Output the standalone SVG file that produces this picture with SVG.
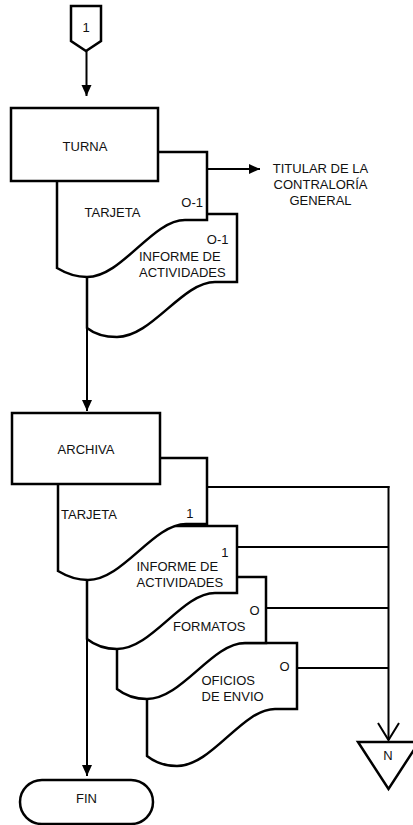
<svg xmlns="http://www.w3.org/2000/svg" width="413" height="825" viewBox="0 0 413 825">
  <defs>
    <style>
      .shape { fill: #fff; stroke: #000; stroke-width: 2.5; stroke-linejoin: miter; }
      .line { fill: none; stroke: #000; stroke-width: 2; }
      text { font-family: "Liberation Sans", Arial, sans-serif; font-size: 13px; fill: #111; }
      .c { text-anchor: middle; }
      .r { text-anchor: end; }
    </style>
    <marker id="arrow" markerUnits="userSpaceOnUse" markerWidth="12" markerHeight="12" refX="11" refY="5" orient="auto">
      <path d="M0,0 L11,5 L0,10 Z" fill="#000"/>
    </marker>
  </defs>

  <rect width="413" height="825" fill="#fff"/>

  <!-- off-page connector 1 -->
  <g id="conector-1">
    <polygon class="shape" points="71,6 101,6 101,41 86,51 71,41"/>
    <text class="c" x="86" y="32">1</text>
  </g>

  <!-- first block: documents stacked back to front, then the process -->
  <g id="doc-informe-1">
    <path class="shape" d="M87,214 H237 V282 H215 C182,282 152,337 117,337 C102,337 92,332 87,328 Z"/>
    <text class="r" x="228.5" y="243.5">O-1</text>
    <text x="139" y="261">INFORME DE</text>
    <text x="139" y="277">ACTIVIDADES</text>
  </g>
  <g id="doc-tarjeta-1">
    <path class="shape" d="M57,152 H207 V220 H185 C152,220 122,277 87,277 C72,277 62,271 57,268 Z"/>
    <text class="c" x="112.5" y="217">TARJETA</text>
    <text class="r" x="203" y="207">O-1</text>
  </g>
  <g id="turna">
    <rect class="shape" x="11" y="108" width="147" height="73"/>
    <text class="c" x="85" y="150.5">TURNA</text>
  </g>
  <g id="titular">
    <text class="c" x="320.5" y="173">TITULAR DE LA</text>
    <text class="c" x="320.5" y="189">CONTRALORÍA</text>
    <text class="c" x="320.5" y="205">GENERAL</text>
  </g>

  <!-- second block -->
  <g id="doc-oficios">
    <path class="shape" d="M147,643 H297 V709 H275 C242,709 212,766 177,766 C162,766 152,760 147,756 Z"/>
    <text class="r" x="289.5" y="671">O</text>
    <text x="201.5" y="685">OFICIOS</text>
    <text x="201.5" y="700.5">DE ENVIO</text>
  </g>
  <g id="doc-formatos">
    <path class="shape" d="M117,577 H266 V643 H245 C212,643 182,699 147,699 C132,699 122,693 117,689 Z"/>
    <text class="r" x="259.5" y="615">O</text>
    <text x="173" y="630.5">FORMATOS</text>
  </g>
  <g id="doc-informe-2">
    <path class="shape" d="M87,526 H237 V593 H215 C182,593 152,649 117,649 C102,649 92,643 87,639 Z"/>
    <text class="r" x="228.5" y="557">1</text>
    <text x="136.5" y="570.5">INFORME DE</text>
    <text x="136.5" y="586.5">ACTIVIDADES</text>
  </g>
  <g id="doc-tarjeta-2">
    <path class="shape" d="M58,458 H207 V524 H186 C153,524 123,580 88,580 C73,580 63,574 58,571 Z"/>
    <text x="61" y="519">TARJETA</text>
    <text class="r" x="193.5" y="517.5">1</text>
  </g>
  <g id="archiva">
    <rect class="shape" x="12" y="413" width="148" height="71"/>
    <text class="c" x="86" y="454">ARCHIVA</text>
  </g>

  <g id="conector-n">
    <polygon class="shape" points="358,742 419,742 388.5,789"/>
    <text class="c" x="388" y="759.5">N</text>
  </g>

  <g id="fin">
    <rect class="shape" x="20" y="780" width="133" height="44" rx="22" ry="22"/>
    <text class="c" x="86.5" y="802.5">FIN</text>
  </g>

  <!-- connectors -->
  <g id="connectors">
    <line class="line" x1="86.5" y1="51" x2="86.5" y2="96" marker-end="url(#arrow)"/>
    <line class="line" x1="207" y1="169" x2="260" y2="169" marker-end="url(#arrow)"/>
    <line class="line" x1="87" y1="277" x2="87" y2="411" marker-end="url(#arrow)"/>
    <line class="line" x1="87" y1="580" x2="87" y2="776" marker-end="url(#arrow)"/>
    <line class="line" x1="207" y1="487" x2="389.5" y2="487"/>
    <line class="line" x1="237" y1="547" x2="388.5" y2="547"/>
    <line class="line" x1="266" y1="608" x2="388.5" y2="608"/>
    <line class="line" x1="297" y1="668" x2="388.5" y2="668"/>
    <line class="line" x1="388.5" y1="486" x2="388.5" y2="740"/>
    <polyline class="line" points="378,723 388.5,740 399,723"/>
  </g>
</svg>
